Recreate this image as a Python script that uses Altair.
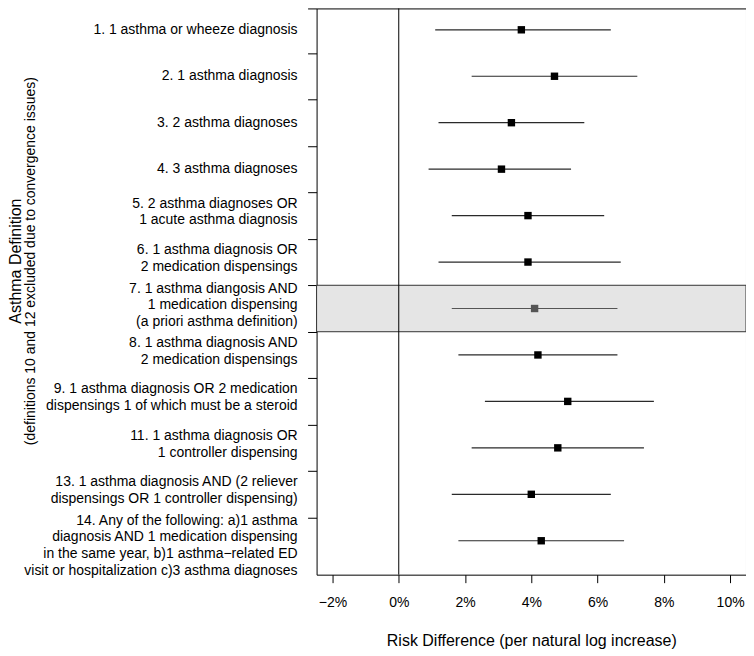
import altair as alt
import pandas as pd

labels = [
    "1. 1 asthma or wheeze diagnosis",
    "2. 1 asthma diagnosis",
    "3. 2 asthma diagnoses",
    "4. 3 asthma diagnoses",
    "5. 2 asthma diagnoses OR \n1 acute asthma diagnosis",
    "6. 1 asthma diagnosis OR \n2 medication dispensings",
    "7. 1 asthma diangosis AND \n1 medication dispensing\n(a priori asthma definition)",
    "8. 1 asthma diagnosis AND \n2 medication dispensings",
    "9. 1 asthma diagnosis OR 2 medication \ndispensings 1 of which must be a steroid",
    "11. 1 asthma diagnosis OR \n1 controller dispensing",
    "13. 1 asthma diagnosis AND (2 reliever \ndispensings OR 1 controller dispensing)",
    "14. Any of the following: a)1 asthma \ndiagnosis AND 1 medication dispensing \nin the same year, b)1 asthma\u2212related ED \nvisit or hospitalization c)3 asthma diagnoses",
]
estimate = [3.7, 4.7, 3.4, 3.1, 3.9, 3.9, 4.1, 4.2, 5.1, 4.8, 4.0, 4.3]
lower = [1.1, 2.2, 1.2, 0.9, 1.6, 1.2, 1.6, 1.8, 2.6, 2.2, 1.6, 1.8]
upper = [6.4, 7.2, 5.6, 5.2, 6.2, 6.7, 6.6, 6.6, 7.7, 7.4, 6.4, 6.8]
highlight = [False, False, False, False, False, False, True, False, False, False, False, False]
x_ticks = [-2, 0, 2, 4, 6, 8, 10]
y_ticks = [0.55, 1.5, 2.5, 3.5, 4.5, 5.5, 6.5, 7.5, 8.5, 9.5, 10.5, 11.5]

x_title = "Risk Difference (per natural log increase)"
y_title = "Asthma Definition"
y_subtitle = "(definitions 10 and 12 excluded due to convergence issues)"

FONT = "Liberation Sans"
W, H = 430, 567
Y_DOMAIN = [0.54, 12.73]
LINE_H = 16.7
PX_PER_ROW = H / (Y_DOMAIN[1] - Y_DOMAIN[0])

df = pd.DataFrame({
    "row": list(range(1, len(labels) + 1)),
    "label": labels,
    "est": estimate,
    "lo": lower,
    "hi": upper,
    "hl": highlight,
})

xs = alt.Scale(domain=[-2.48, 10.48], nice=False, zero=False)
ys = alt.Scale(domain=Y_DOMAIN, reverse=True, nice=False, zero=False)

x_axis = alt.Axis(
    values=x_ticks,
    labelExpr="datum.value < 0 ? '\u2212' + abs(datum.value) + '%' : datum.value + '%'",
    title=x_title, domain=False, grid=False, tickSize=8, tickColor="black",
    labelFontSize=14, titleFontSize=16, labelPadding=13, titlePadding=23,
    labelColor="black", titleColor="black", titleFontWeight="normal",
    labelFont=FONT, titleFont=FONT,
)
y_axis = alt.Axis(values=y_ticks, labels=False, title=None, domain=False, grid=False,
                  tickSize=9, tickColor="black")

base = alt.Chart(df)

band = base.transform_filter("datum.hl").transform_calculate(
    y0="datum.row - 0.5", y1="datum.row + 0.5"
).mark_rect(fill="#e5e5e5", stroke="#333333", strokeWidth=1).encode(
    x=alt.value(0), x2=alt.value(W),
    y=alt.Y("y0:Q", scale=ys, axis=y_axis), y2="y1:Q",
)

zero = alt.Chart(pd.DataFrame({"z": [0]})).mark_rule(color="black", strokeWidth=1).encode(
    x=alt.X("z:Q", scale=xs, axis=x_axis)
)

ci = base.mark_rule(strokeWidth=1.2).encode(
    x=alt.X("lo:Q", scale=xs, axis=x_axis), x2="hi:Q",
    y=alt.Y("row:Q", scale=ys, axis=y_axis),
    color=alt.condition("datum.hl", alt.value("#555555"), alt.value("#2a2a2a")),
)

pts = base.mark_point(shape="square", filled=True, size=55, opacity=1).encode(
    x=alt.X("est:Q", scale=xs, axis=x_axis),
    y=alt.Y("row:Q", scale=ys, axis=y_axis),
    color=alt.condition("datum.hl", alt.value("#555555"), alt.value("black")),
)

# first text line is placed above the row centre, depending on the number of lines
lab = base.transform_calculate(
    nl="split(datum.label, '\\n').length"
).transform_calculate(
    ly=f"datum.row - min((datum.nl - 1) * 12, 20) / {PX_PER_ROW}"
).mark_text(align="right", baseline="middle", fontSize=14, font=FONT,
            lineBreak="\n", lineHeight=LINE_H, color="black").encode(
    x=alt.value(-19),
    y=alt.Y("ly:Q", scale=ys, axis=y_axis),
    text="label:N",
)

t1 = alt.Chart(pd.DataFrame({"t": [y_title]})).mark_text(
    angle=270, align="center", baseline="middle", fontSize=16, font=FONT, color="black"
).encode(x=alt.value(-301), y=alt.value(253), text="t:N")

t2 = alt.Chart(pd.DataFrame({"t": [y_subtitle]})).mark_text(
    angle=270, align="center", baseline="middle", fontSize=14, font=FONT, color="black"
).encode(x=alt.value(-286), y=alt.value(253), text="t:N")

chart = alt.layer(band, zero, ci, pts, lab, t1, t2).properties(
    width=W, height=H,
    autosize=alt.AutoSizeParams(type="none"),
    padding={"left": 309, "top": 0, "right": 0, "bottom": 75},
).configure_view(stroke="black", strokeWidth=1).configure_axis(
    labelFont=FONT, titleFont=FONT
)

chart.save("out.html", embed_options={"renderer": "svg", "actions": False})
